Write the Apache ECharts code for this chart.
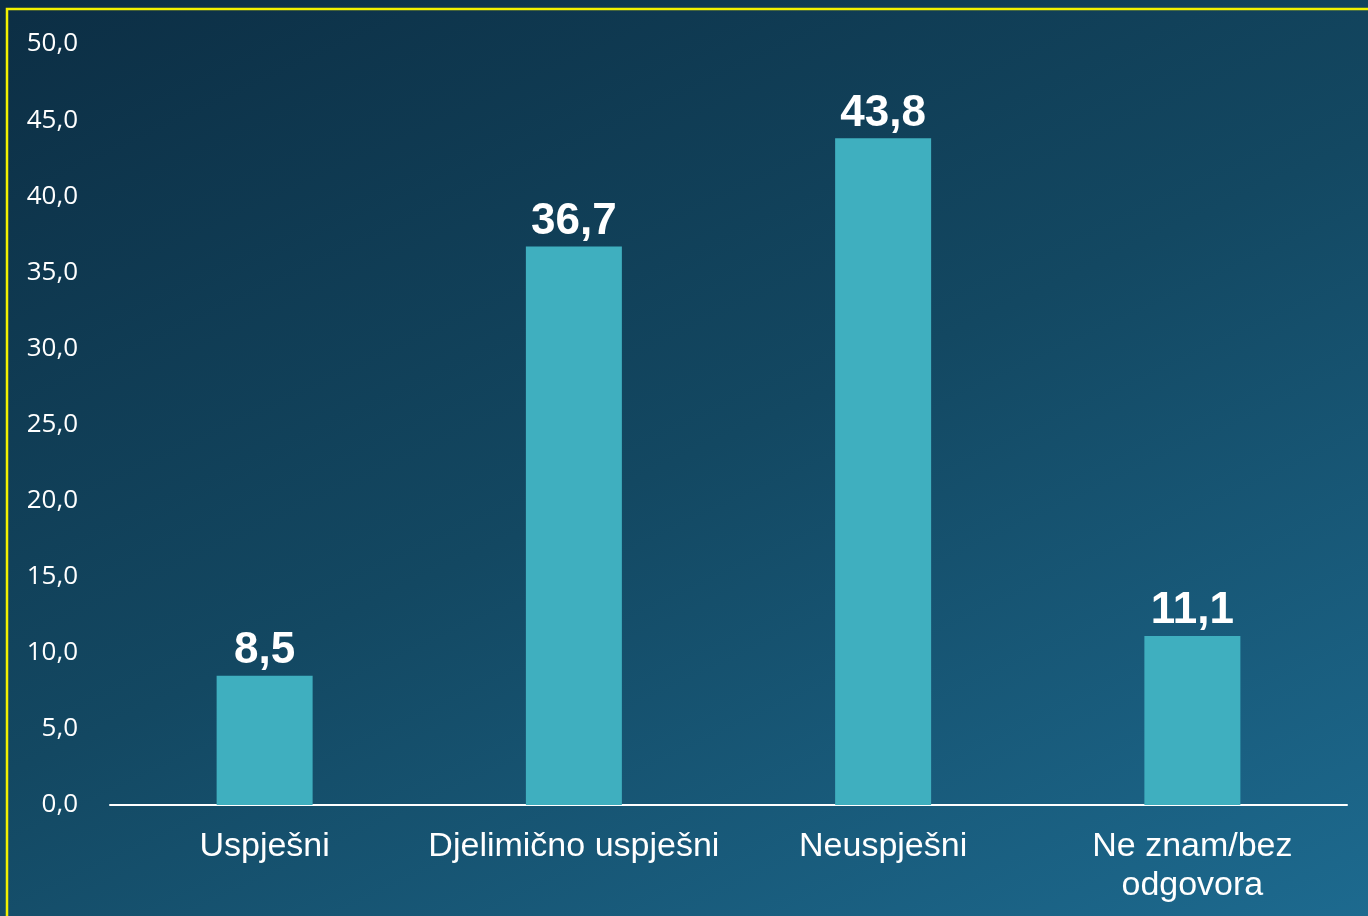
<!DOCTYPE html>
<html>
<head>
<meta charset="utf-8">
<script src="https://cdn.jsdelivr.net/npm/echarts@6/dist/echarts.min.js"></script>
<style>
  html, body { margin: 0; padding: 0; }
  body { width: 1368px; height: 916px; overflow: hidden;
         background: linear-gradient(155deg, #0c2e44 0%, #134862 50%, #1d6a8f 100%); }
  #chart { width: 1368px; height: 916px; }
</style>
</head>
<body>
<div id="chart"></div>
<script>
const categories = ['Uspješni', 'Djelimično uspješni', 'Neuspješni', 'Ne znam/bez\nodgovora'];
const values = [8.5, 36.7, 43.8, 11.1];
const yTicks = { min: 0, max: 50, interval: 5 };

const fmt = v => v.toFixed(1).replace('.', ',');

const chart = echarts.init(document.getElementById('chart'));
chart.setOption({
  backgroundColor: 'transparent',
  animation: false,
  graphic: [{
    type: 'polyline',
    shape: { points: [[7, 916], [7, 9], [1368, 9]] },
    style: { stroke: '#f2f200', lineWidth: 2.5, fill: null },
    silent: true
  }],
  grid: { left: 110, right: 21, top: 44, bottom: 111, containLabel: false },
  xAxis: {
    type: 'category',
    data: categories,
    axisLine: { show: true, lineStyle: { color: '#ffffff', width: 2 } },
    axisTick: { show: false },
    axisLabel: {
      color: '#ffffff', fontFamily: 'Liberation Sans, Arial, sans-serif',
      fontSize: 34, lineHeight: 39, margin: 22, interval: 0
    }
  },
  yAxis: {
    type: 'value',
    min: yTicks.min, max: yTicks.max, interval: yTicks.interval,
    axisLine: { show: false },
    axisTick: { show: false },
    splitLine: { show: false },
    axisLabel: {
      color: '#ffffff', fontFamily: 'Open Sans, DejaVu Sans, sans-serif',
      fontSize: 26, margin: 32, formatter: v => fmt(v)
    }
  },
  series: [{
    type: 'bar',
    data: values,
    barWidth: 96,
    itemStyle: { color: '#3fafbf' },
    label: {
      show: true, position: 'top', distance: 3,
      color: '#ffffff', fontWeight: 'bold', fontSize: 44,
      fontFamily: 'Liberation Sans, Arial, sans-serif',
      formatter: p => fmt(p.value)
    }
  }]
});
</script>
</body>
</html>
